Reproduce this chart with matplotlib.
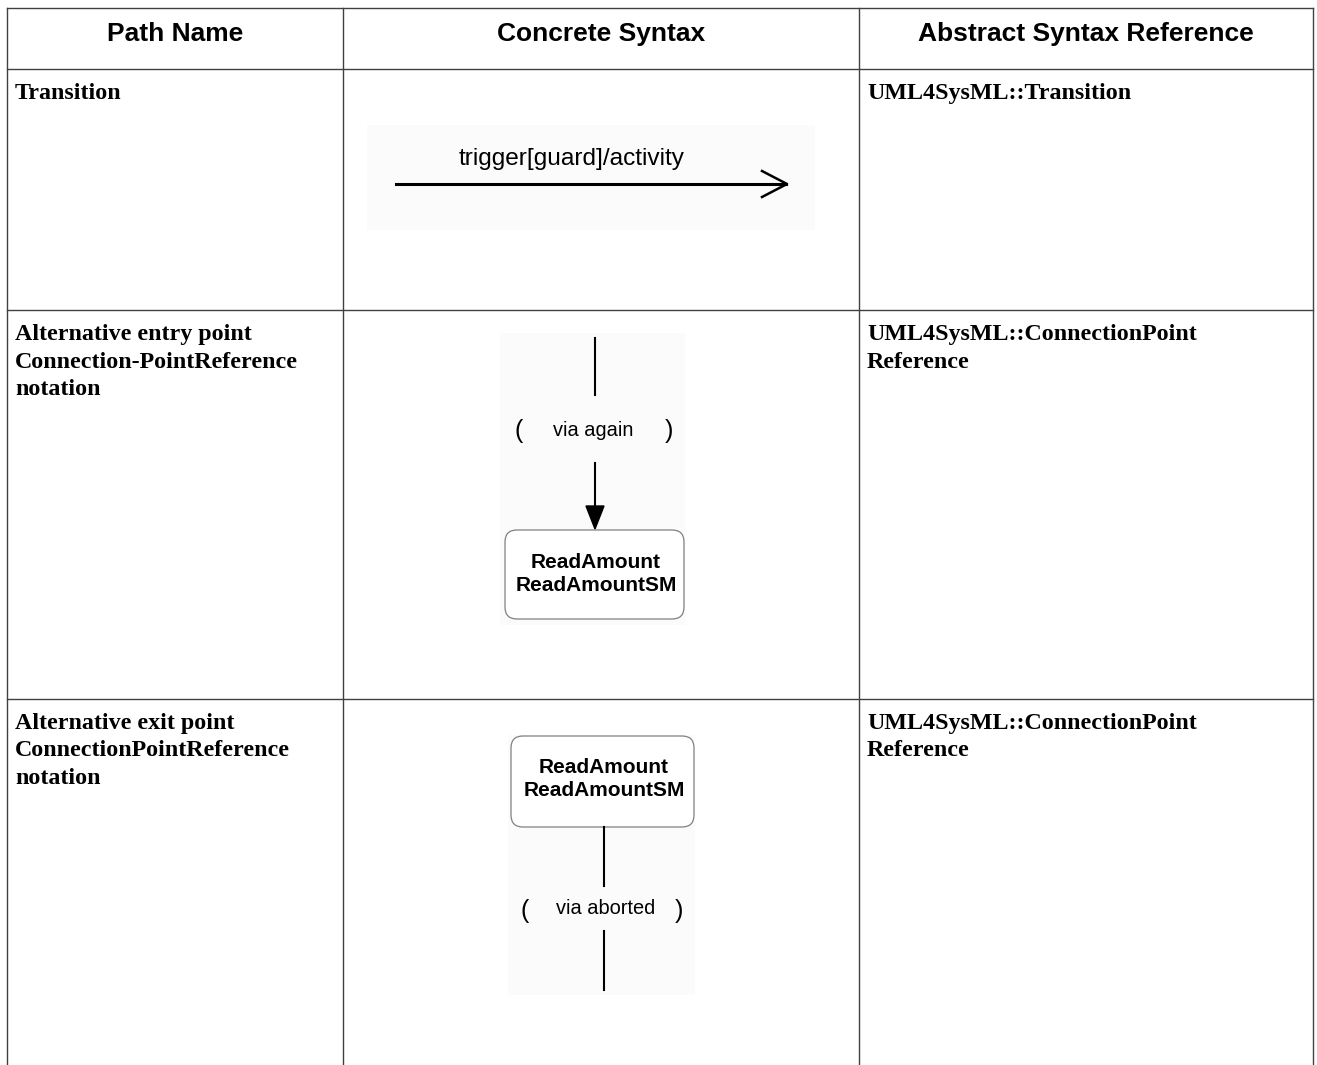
import matplotlib.pyplot as plt
from matplotlib.patches import FancyBboxPatch, Rectangle, Polygon

# table content
headers = ['Path Name', 'Concrete Syntax', 'Abstract Syntax Reference']
path_names = [['Transition'],
              ['Alternative entry point', 'Connection-PointReference', 'notation'],
              ['Alternative exit point', 'ConnectionPointReference', 'notation']]
references = [['UML4SysML::Transition'],
              ['UML4SysML::ConnectionPoint', 'Reference'],
              ['UML4SysML::ConnectionPoint', 'Reference']]
transition_label = 'trigger[guard]/activity'
entry_label = 'via again'
exit_label = 'via aborted'
state_name = 'ReadAmount\nReadAmountSM'

# layout (pixels)
W, H = 1317, 1065
col_x = [7, 343, 859, 1313]
row_y = [8, 69, 310, 699, 1065]

fig = plt.figure(figsize=(W/100, H/100), dpi=100)
ax = fig.add_axes([0, 0, 1, 1])
ax.set_xlim(0, W)
ax.set_ylim(H, 0)
ax.axis('off')

lc = '#404040'
for x in col_x:
    ax.plot([x, x], [row_y[0], H], color=lc, lw=1.0)
for y in row_y[:-1]:
    ax.plot([col_x[0], col_x[-1]], [y, y], color=lc, lw=1.0)

# header
for i, h in enumerate(headers):
    ax.text((col_x[i]+col_x[i+1])/2, 41, h, ha='center', va='baseline',
            fontsize=19, fontweight='bold', family='Liberation Sans')

# body text, one line at a time
for r in range(3):
    for k, line in enumerate(path_names[r]):
        ax.text(15, row_y[r+1]+30+k*27.5, line, ha='left', va='baseline', fontsize=17.3,
                fontweight='bold', family='Liberation Serif')
    for k, line in enumerate(references[r]):
        ax.text(867, row_y[r+1]+30+k*27.5, line, ha='left', va='baseline', fontsize=17.3,
                fontweight='bold', family='Liberation Serif')

bg = '#fbfbfb'
sans = 'Liberation Sans'

# transition diagram
ax.add_patch(Rectangle((367, 125), 448, 105, color=bg, lw=0))
ax.text(572, 165, transition_label, ha='center', va='baseline', fontsize=17.6, family=sans)
ax.plot([396, 786], [184, 184], color='black', lw=2.2)
ax.plot([762, 787, 762], [171, 184, 197], color='black', lw=1.8)

# entry point diagram
ax.add_patch(Rectangle((500, 333), 185, 292, color=bg, lw=0))
ax.plot([595, 595], [338, 395], color='black', lw=1.5)
ax.text(519, 431, '(', ha='center', va='center', fontsize=18, family=sans, fontweight='light')
ax.text(669, 431, ')', ha='center', va='center', fontsize=18, family=sans, fontweight='light')
ax.text(593, 436, entry_label, ha='center', va='baseline', fontsize=14.4, family=sans)
ax.plot([595, 595], [463, 508], color='black', lw=1.5)
ax.add_patch(Polygon([[586, 506], [604, 506], [595, 529]], closed=True, color='black'))
ax.add_patch(FancyBboxPatch((505+12, 530+12), 179-24, 89-24,
             boxstyle='round,pad=12', fc='white', ec='#808080', lw=0.9))
ax.text(596, 574, state_name, ha='center', va='center', fontsize=15,
        fontweight='bold', family=sans, linespacing=1.25)

# exit point diagram
ax.add_patch(Rectangle((508, 735), 187, 260, color=bg, lw=0))
ax.add_patch(FancyBboxPatch((511+12, 736+12), 183-24, 91-24,
             boxstyle='round,pad=12', fc='white', ec='#808080', lw=0.9))
ax.text(604, 779, state_name, ha='center', va='center', fontsize=15,
        fontweight='bold', family=sans, linespacing=1.25)
ax.plot([604, 604], [827, 886], color='black', lw=1.5)
ax.text(525, 911, '(', ha='center', va='center', fontsize=18, family=sans)
ax.text(679, 911, ')', ha='center', va='center', fontsize=18, family=sans)
ax.text(606, 914, exit_label, ha='center', va='baseline', fontsize=14.4, family=sans)
ax.plot([604, 604], [931, 990], color='black', lw=1.5)

plt.savefig('out.png', dpi=100)
